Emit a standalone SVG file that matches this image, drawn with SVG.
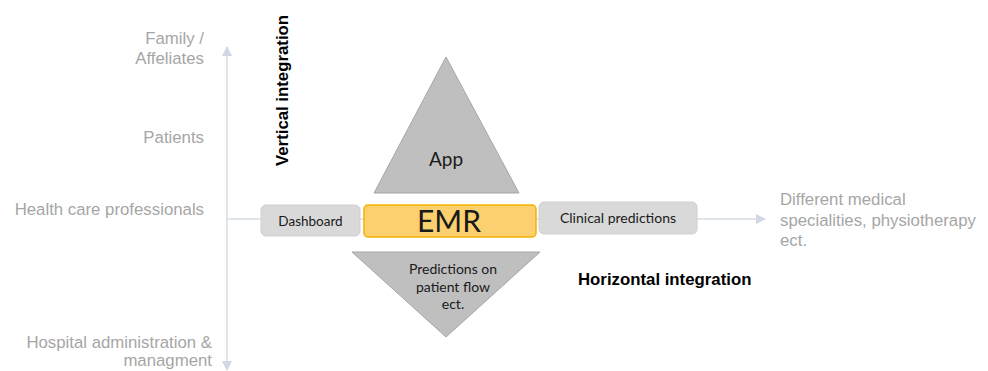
<svg xmlns="http://www.w3.org/2000/svg" width="988" height="371" viewBox="0 0 988 371">
<style>
.lbl{font-family:"Liberation Sans",Arial,sans-serif;font-size:16.8px;fill:#a6a6a6}
.bold{font-family:"Liberation Sans",Arial,sans-serif;font-size:16.8px;font-weight:bold;fill:#000}
.box{fill:#d9d9d9;stroke:#cfcfcf;stroke-width:1}
.bt{font-family:Lato,"Open Sans",sans-serif;fill:#1a1a1a;text-anchor:middle}
.axis{stroke:#d6dce6;stroke-width:1.5;fill:none}
.tri{fill:#bfbfbf;stroke:#a6a6a6;stroke-width:1}
</style>
<defs>
<marker id="ah" viewBox="0 0 10 10" refX="9" refY="5" markerWidth="10" markerHeight="10" markerUnits="userSpaceOnUse" orient="auto">
<path d="M0,0 L10,5 L0,10 z" fill="#d0d8e4"/>
</marker>
</defs>
<rect width="988" height="371" fill="#fff"/>
<g id="connectors">
<line class="axis" x1="227" y1="219" x2="227" y2="47" marker-end="url(#ah)"/>
<line class="axis" x1="227" y1="219" x2="227" y2="370" marker-end="url(#ah)"/>
<line class="axis" x1="227" y1="219" x2="765" y2="219" marker-end="url(#ah)"/>
</g>
<g id="labels-left">
<text class="lbl" text-anchor="end" x="204" y="44">Family /</text>
<text class="lbl" text-anchor="end" x="204" y="64">Affeliates</text>
<text class="lbl" text-anchor="end" x="204" y="143">Patients</text>
<text class="lbl" text-anchor="end" x="204" y="215">Health care professionals</text>
<text class="lbl" text-anchor="end" x="212" y="348">Hospital administration &amp;</text>
<text class="lbl" text-anchor="end" x="212" y="366">managment</text>
</g>
<g id="labels-right">
<text class="lbl" x="780" y="205">Different medical</text>
<text class="lbl" x="780" y="226">specialities, physiotherapy</text>
<text class="lbl" x="780" y="246">ect.</text>
</g>
<g id="vertical-integration">
<text class="bold" transform="translate(288,166) rotate(-90)">Vertical integration</text>
</g>
<g id="horizontal-integration">
<text class="bold" x="578" y="285">Horizontal integration</text>
</g>
<g id="app">
<polygon class="tri" points="446,57 519,193 374,193"/>
<text class="bt" x="446" y="166" font-size="19">App</text>
</g>
<g id="dashboard">
<rect class="box" x="261" y="205" width="99" height="31" rx="5"/>
<text class="bt" x="310.5" y="226" font-size="13.5">Dashboard</text>
</g>
<g id="emr">
<rect x="364" y="205" width="172" height="32" rx="4" fill="#fcd06f" stroke="#f2b300" stroke-width="1.5"/>
<text class="bt" x="449" y="232" font-size="30" fill="#000">EMR</text>
</g>
<g id="clinical">
<rect class="box" x="539" y="202" width="158" height="32" rx="5"/>
<text class="bt" x="618" y="223" font-size="14">Clinical predictions</text>
</g>
<g id="predictions">
<polygon class="tri" points="352,252 540,252 446,337"/>
<text class="bt" x="453" y="274" font-size="14">Predictions on</text>
<text class="bt" x="453" y="292" font-size="14">patient flow</text>
<text class="bt" x="453" y="309" font-size="14">ect.</text>
</g>
</svg>
